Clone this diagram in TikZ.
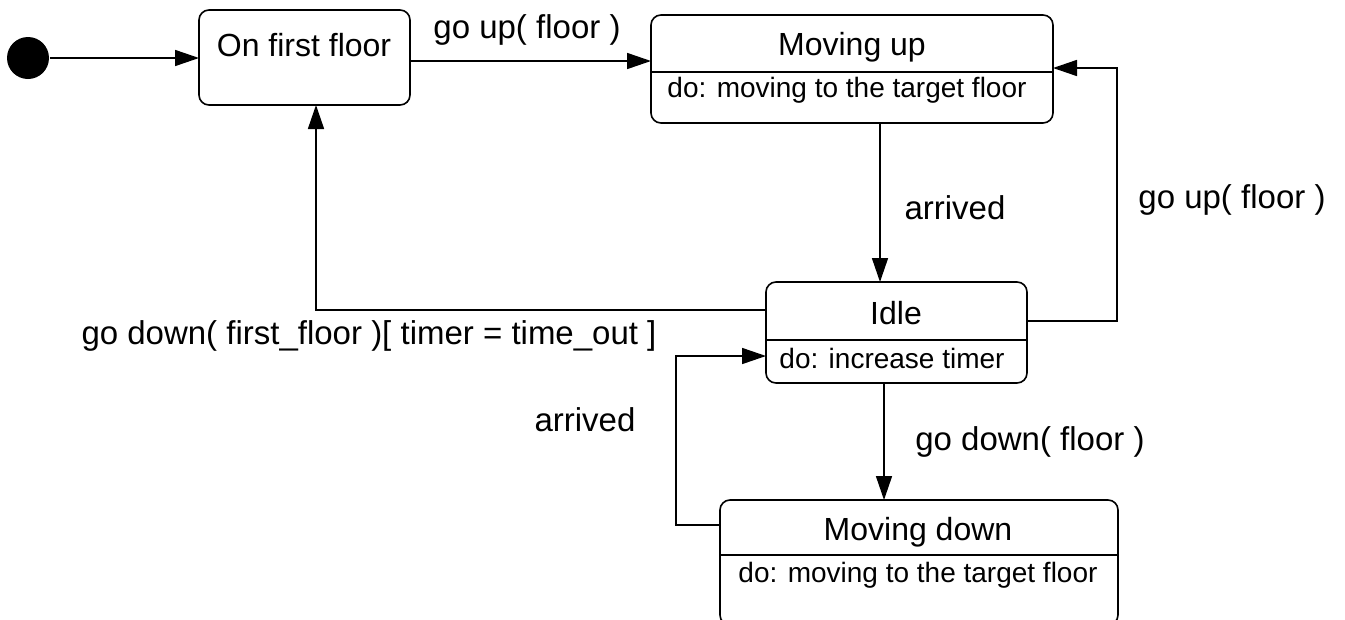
\documentclass[tikz,border=0pt]{standalone}
\usepackage{fontspec}
\setmainfont{Liberation Sans}
\usetikzlibrary{arrows.meta}
\begin{document}
\begin{tikzpicture}[x=1pt,y=-1pt,
  line width=1.6pt,
  statebox/.style={draw, rounded corners=10pt, inner sep=0pt, outer sep=0pt},
  ttl/.style={font=\fontsize{32}{36}\selectfont, inner sep=0pt},
  act/.style={font=\fontsize{28}{32}\selectfont, inner sep=0pt},
  lbl/.style={font=\fontsize{33}{38}\selectfont, inner sep=0pt},
  arr/.style={-{Triangle[length=24pt,width=16pt]}}]
\useasboundingbox (0,0) rectangle (1345,619);
\clip (0,0) rectangle (1345,619);
% initial
\fill (28,58) circle (21) coordinate (init);
\node[circle, minimum size=42pt, inner sep=0pt] (initn) at (28,58) {};
% states
\node[statebox, minimum width=211pt, minimum height=95pt] (first) at (304.5,57.5) {};
\node[statebox, minimum width=402pt, minimum height=108pt] (up) at (852,69) {};
\node[statebox, minimum width=261pt, minimum height=101pt] (idle) at (896.5,332.5) {};
\node[statebox, minimum width=398pt, minimum height=125pt] (down) at (919,562.5) {};
% dividers
\coordinate (du) at (0,72);
\coordinate (di) at (0,340);
\coordinate (dd) at (0,555);
\draw (up.west |- du) -- (up.east |- du);
\draw (idle.west |- di) -- (idle.east |- di);
\draw (down.west |- dd) -- (down.east |- dd);
% texts
\node[ttl] (t1) at (304,45) {On first floor};
\node[ttl] (t2) at (852,47) {Moving up};
\node[act] (a2) at (847,90) {do: moving to the target floor};
\node[ttl] (t3) at (896,313) {Idle};
\node[act] (a3) at (892,358) {do: increase timer};
\node[ttl] (t4) at (918,532) {Moving down};
\node[act] (a4) at (918,575) {do: moving to the target floor};
% connectors
\draw[arr] (initn) -- (first.west |- initn);
\coordinate (r1) at (0,61);
\draw[arr] (first.east |- r1) -- (up.west |- r1);
\coordinate (v1) at (880,0);
\draw[arr] (up.south -| v1) -- (idle.north -| v1);
\coordinate (c1) at (1117,321);
\coordinate (c2) at (1117,68);
\draw[arr] (idle.east |- c1) -- (c1) -- (c2) -- (up.east |- c2);
\coordinate (d1) at (316,310);
\draw[arr] (idle.west |- d1) -- (d1) -- (first.south -| d1);
\coordinate (v2) at (884,0);
\draw[arr] (idle.south -| v2) -- (down.north -| v2);
\coordinate (e1) at (676,525);
\coordinate (e2) at (676,356);
\draw[arr] (down.west |- e1) -- (e1) -- (e2) -- (idle.west |- e2);
% labels
\node[lbl] (l1) at (527,30) {go up( floor )};
\node[lbl] (l2) at (955,208) {arrived};
\node[lbl] (l3) at (1232,200) {go up( floor )};
\node[lbl] (l4) at (369,336) {go down( first\_floor )[ timer = time\_out ]};
\node[lbl] (l5) at (1030,442) {go down( floor )};
\node[lbl] (l6) at (585,420) {arrived};
\end{tikzpicture}
\end{document}
